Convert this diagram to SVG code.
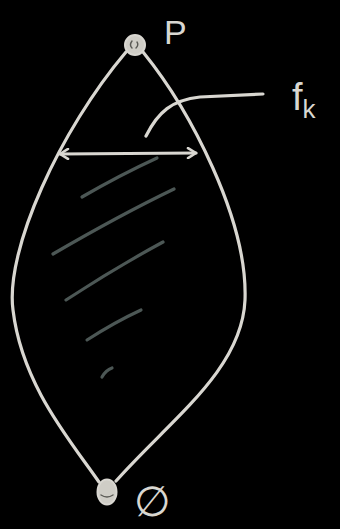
<svg xmlns="http://www.w3.org/2000/svg" width="340" height="529" viewBox="0 0 340 529">
<defs>
<style>
.ink{fill:none;stroke:#d9d7d1;stroke-width:3.2;stroke-linecap:round;stroke-linejoin:round}
.hatch{fill:none;stroke:#4c5755;stroke-width:3.2;stroke-linecap:round}
.lbl{fill:#d9d7d1;font-family:"Liberation Sans",Arial,sans-serif}
</style>
<marker id="ah" viewBox="0 0 12 12" refX="10" refY="6" markerWidth="12" markerHeight="12" markerUnits="userSpaceOnUse" orient="auto-start-reverse">
<path d="M2,1 L10,6 L2,11" fill="none" stroke="#d9d7d1" stroke-width="2.6" stroke-linecap="round" stroke-linejoin="round"/>
</marker>
</defs>
<rect width="340" height="529" fill="#000"/>
<g id="connectors">
<path class="ink" d="M126,52 C60,130 5,250 13,310 C22,385 70,440 99,482"/>
<path class="ink" d="M143,52 C190,110 248,220 245,300 C242,370 170,420 116,481"/>
<path class="ink" d="M60,154 L196,153" marker-start="url(#ah)" marker-end="url(#ah)"/>
<path class="ink" d="M146,136 C158,112 172,100 200,97 L263,94"/>
</g>
<g id="hatching">
<path class="hatch" d="M82,197 Q120,175 157,158"/>
<path class="hatch" d="M53,254 Q120,215 174,189"/>
<path class="hatch" d="M66,300 Q115,268 163,242"/>
<path class="hatch" d="M87,340 Q115,322 141,310"/>
<path class="hatch" d="M102,377 Q106,370 112,368"/>
</g>
<g id="node-P">
<circle cx="135" cy="45" r="10" fill="#cfcdc6" stroke="#d9d7d1" stroke-width="2"/>
<path d="M132,41 q-3,4 0,7 M137,42 q2,3 -1,6" fill="none" stroke="#5a5a55" stroke-width="1.4" stroke-linecap="round"/>
<text class="lbl" x="164" y="44" font-size="34">P</text>
</g>
<g id="node-empty">
<ellipse cx="107" cy="492" rx="9.5" ry="12.5" fill="#cfcdc6" stroke="#d9d7d1" stroke-width="2"/>
<path d="M101,495 q6,4 12,0" fill="none" stroke="#5a5a55" stroke-width="1.4" stroke-linecap="round"/>
<text class="lbl" x="134" y="516" font-size="42">∅</text>
</g>
<g id="label-fk">
<text class="lbl" x="292" y="110" font-size="38">f<tspan font-size="26" dy="8">k</tspan></text>
</g>
</svg>
